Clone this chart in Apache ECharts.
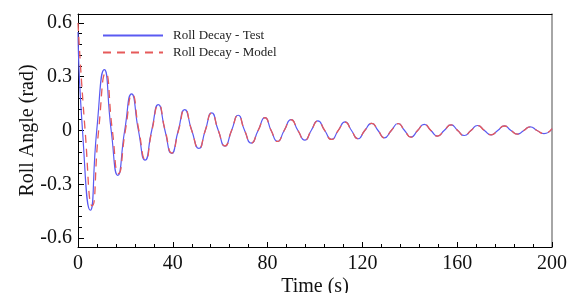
<!DOCTYPE html>
<html>
<head>
<meta charset="utf-8">
<script src="https://cdn.jsdelivr.net/npm/echarts@6/dist/echarts.min.js"></script>
<style>
  html, body { margin: 0; padding: 0; background: #fff; }
  #chart { width: 572px; height: 293px; }
</style>
</head>
<body>
<div id="chart"></div>
<script>
// roll angle: [time (s), angle (rad)]
const testData = [
  [0, 0.55], [1.9, 0], [5.2, -0.445], [7.9, 0], [11.1, 0.34], [14.0, 0], [16.8, -0.25], [19.7, 0],
  [22.6, 0.204], [25.5, 0], [28.3, -0.165], [31.1, 0], [33.9, 0.144], [36.7, 0], [39.5, -0.128], [42.3, 0],
  [45.0, 0.117], [48.0, 0], [51.0, -0.1], [53.7, 0], [56.4, 0.098], [59.2, 0], [62.0, -0.087], [64.8, 0],
  [67.6, 0.085], [70.3, 0], [73.1, -0.07], [76.0, 0], [78.9, 0.072], [81.5, 0], [84.2, -0.061], [87.0, 0],
  [89.9, 0.061], [92.8, 0], [95.7, -0.054], [98.4, 0], [101.2, 0.054], [104.1, 0], [107.0, -0.05], [109.8, 0],
  [112.7, 0.048], [115.4, 0], [118.1, -0.046], [121.0, 0], [123.9, 0.04], [126.6, 0], [129.3, -0.041], [132.2, 0],
  [135.1, 0.039], [137.8, 0], [140.5, -0.037], [143.3, 0], [146.1, 0.034], [148.9, 0], [151.7, -0.031], [154.5, 0],
  [157.4, 0.031], [160.2, 0], [163.0, -0.028], [165.8, 0], [168.6, 0.028], [171.5, 0], [174.3, -0.024], [177.1, 0],
  [179.9, 0.026], [182.7, 0], [185.5, -0.02], [188.1, 0], [190.8, 0.02], [193.7, 0], [196.6, -0.017], [200, 0.01]
];
const modelData = [
  [0, 0.6], [3.0, 0], [6.0, -0.42], [8.7, 0], [11.7, 0.32], [14.5, 0], [17.1, -0.24], [20.0, 0],
  [22.9, 0.2], [25.7, 0], [28.5, -0.162], [31.2, 0], [34.0, 0.142], [36.8, 0], [39.6, -0.126], [42.4, 0],
  [45.1, 0.116], [48.0, 0], [51.0, -0.1], [53.7, 0], [56.4, 0.097], [59.2, 0], [62.0, -0.086], [64.8, 0],
  [67.6, 0.084], [70.3, 0], [73.1, -0.07], [76.0, 0], [78.9, 0.071], [81.5, 0], [84.2, -0.061], [87.0, 0],
  [89.9, 0.06], [92.8, 0], [95.7, -0.054], [98.4, 0], [101.2, 0.053], [104.1, 0], [107.0, -0.05], [109.8, 0],
  [112.7, 0.047], [115.4, 0], [118.1, -0.046], [121.0, 0], [123.9, 0.04], [126.6, 0], [129.3, -0.041], [132.2, 0],
  [135.1, 0.038], [137.8, 0], [140.5, -0.037], [143.3, 0], [146.1, 0.034], [148.9, 0], [151.7, -0.031], [154.5, 0],
  [157.4, 0.031], [160.2, 0], [163.0, -0.028], [165.8, 0], [168.6, 0.027], [171.5, 0], [174.3, -0.024], [177.1, 0],
  [179.9, 0.025], [182.7, 0], [185.5, -0.02], [188.1, 0], [190.8, 0.02], [193.7, 0], [196.6, -0.017], [200, 0.01]
];
const yMajorTicks = [-0.6, -0.3, 0, 0.3, 0.6];
const seriesNames = ['Roll Decay - Test', 'Roll Decay - Model'];

const FONT = '"Liberation Serif", "Times New Roman", serif';

// minor y ticks every 0.06
const yMinorTicks = [];
for (let i = -10; i <= 10; i++) yMinorTicks.push(+(i * 0.06).toFixed(2));

const chart = echarts.init(document.getElementById('chart'));

const option = {
  animation: false,
  backgroundColor: '#fff',
  grid: { left: 78, right: 20, top: 14, bottom: 46, containLabel: false, outerBoundsMode: 'none' },
  legend: {
    data: seriesNames,
    orient: 'vertical',
    left: 102, top: 29, padding: 0,
    itemWidth: 60, itemHeight: 12, itemGap: 4,
    itemStyle: { opacity: 0 },
    textStyle: { fontFamily: FONT, fontSize: 13, color: '#222', padding: [0, 0, 0, 5] }
  },
  xAxis: [
    {
      type: 'value', position: 'bottom', min: 0, max: 200, interval: 40,
      name: 'Time (s)', nameLocation: 'middle', nameGap: 30, nameMoveOverlap: false,
      nameTextStyle: { fontFamily: FONT, fontSize: 20, color: '#111' },
      axisLine: { onZero: false, lineStyle: { color: '#000', width: 1 } },
      axisTick: { inside: true, length: 5, lineStyle: { color: '#000' } },
      minorTick: { show: true, splitNumber: 5, length: 3, lineStyle: { color: '#000' } },
      axisLabel: { fontFamily: FONT, fontSize: 20, color: '#111', margin: 7 },
      splitLine: { show: false }
    },
    {
      type: 'value', position: 'top', min: 0, max: 200,
      axisLine: { show: true, onZero: false, lineStyle: { color: '#000', width: 1 } },
      axisTick: { show: false }, axisLabel: { show: false }, splitLine: { show: false }
    }
  ],
  yAxis: [
    {
      type: 'value', position: 'left', min: -0.65, max: 0.65,
      name: 'Roll Angle (rad)', nameLocation: 'middle', nameGap: 40, nameMoveOverlap: false,
      nameTextStyle: { fontFamily: FONT, fontSize: 20, color: '#111' },
      axisLine: { show: true, onZero: false, lineStyle: { color: '#000', width: 1 } },
      axisTick: { inside: true, length: 6, customValues: yMajorTicks, lineStyle: { color: '#000' } },
      axisLabel: { fontFamily: FONT, fontSize: 20, color: '#111', margin: 6, customValues: yMajorTicks,
        formatter: v => String(+v.toFixed(2)) },
      splitLine: { show: false }
    },
    {
      type: 'value', position: 'left', min: -0.65, max: 0.65,
      axisLine: { show: false, onZero: false },
      axisTick: { show: true, inside: true, length: 4, customValues: yMinorTicks, lineStyle: { color: '#000' } },
      axisLabel: { show: false }, splitLine: { show: false }
    },
    {
      type: 'value', position: 'right', min: -0.65, max: 0.65,
      axisLine: { show: true, onZero: false, lineStyle: { color: '#888', width: 1.5 } },
      axisTick: { show: false }, axisLabel: { show: false }, splitLine: { show: false }
    }
  ],
  series: [
    {
      name: seriesNames[0], type: 'line', data: testData, smooth: 0.6,
      symbol: 'none',
      lineStyle: { color: '#5a5af2', width: 1.2 }, itemStyle: { color: '#5a5af2' }
    },
    {
      name: seriesNames[1], type: 'line', data: modelData, smooth: 0.6,
      symbol: 'none',
      lineStyle: { color: '#e65a5a', width: 1.3, type: [8, 6] }, itemStyle: { color: '#e65a5a' }
    }
  ]
};
chart.setOption(option);
</script>
</body>
</html>
